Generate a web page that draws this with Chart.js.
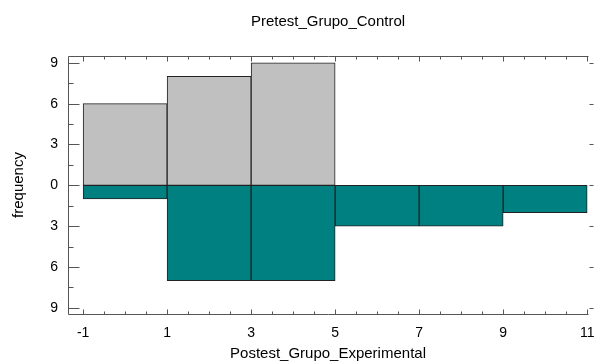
<!DOCTYPE html>
<html>
<head>
<meta charset="utf-8">
<script src="https://cdn.jsdelivr.net/npm/chart.js@4.4.1/dist/chart.umd.min.js"></script>
<style>
  html, body { margin: 0; padding: 0; background: #fff; }
  #wrap { width: 594px; height: 363px; }
</style>
</head>
<body>
<div id="wrap"><canvas id="histChart"></canvas></div>
<script>
// Bin centres (bins are 2 wide, from -1 to 11)
const binCenters = [0, 2, 4, 6, 8, 10];
// Pretest_Grupo_Control counts (drawn upwards)
const controlCounts = [6, 8, 9];
// Postest_Grupo_Experimental counts (drawn downwards)
const experimentalCounts = [1, 7, 7, 3, 3, 2];
// Axis ticks
const xTickValues = [-1, 1, 3, 5, 7, 9, 11];
const yTickValues = [-9, -6, -3, 0, 3, 6, 9];

const labelFont = "'Liberation Sans', Arial, sans-serif";

// Frame and inward tick marks like the original plot
const framePlugin = {
    id: 'frame',
    afterDatasetsDraw(chart) {
        const ctx = chart.ctx;
        const area = chart.chartArea;
        const xs = chart.scales.x;
        const ys = chart.scales.y;
        const L = Math.round(area.left) + 0.5;
        const R = Math.round(area.right) + 0.5;
        const T = Math.round(area.top) + 0.5;
        const B = Math.round(area.bottom) + 0.5;

        ctx.save();
        ctx.strokeStyle = '#555555';
        ctx.lineWidth = 1;
        ctx.beginPath();
        ctx.moveTo(R, T); ctx.lineTo(L, T); ctx.lineTo(L, B); ctx.lineTo(R, B);
        ctx.stroke();

        ctx.beginPath();
        // x ticks every 0.5, major at the labelled values
        for (let v = -1; v <= 11.001; v += 0.5) {
            const px = Math.round(xs.getPixelForValue(v)) + 0.5;
            const len = xTickValues.includes(v) ? 5 : 3;
            ctx.moveTo(px, T); ctx.lineTo(px, T + len);
            ctx.moveTo(px, B); ctx.lineTo(px, B - len);
        }
        // y ticks every 1.5, major every 3
        for (let v = -9; v <= 9.001; v += 1.5) {
            const py = Math.round(ys.getPixelForValue(v)) + 0.5;
            const major = yTickValues.includes(v);
            ctx.moveTo(L, py); ctx.lineTo(L + (major ? 11 : 5), py);
            if (major) { ctx.moveTo(R + 1, py); ctx.lineTo(R + 5, py); }
        }
        ctx.stroke();
        ctx.restore();
    }
};

const ctx = document.getElementById('histChart').getContext('2d');
const histChart = new Chart(ctx, {
    type: 'bar',
    data: {
        datasets: [{
            label: 'Pretest_Grupo_Control',
            data: controlCounts.map((c, i) => ({ x: binCenters[i], y: c })),
            backgroundColor: '#c0c0c0',
            borderColor: '#222222',
            borderWidth: 1,
            borderSkipped: false
        }, {
            label: 'Postest_Grupo_Experimental',
            data: experimentalCounts.map((c, i) => ({ x: binCenters[i], y: -c })),
            backgroundColor: '#008080',
            borderColor: '#222222',
            borderWidth: 1,
            borderSkipped: false
        }]
    },
    options: {
        responsive: true,
        maintainAspectRatio: false,
        animation: false,
        grouped: false,
        barPercentage: 1,
        categoryPercentage: 1,
        layout: { padding: { top: 0, right: 6, bottom: 0, left: 0 } },
        plugins: {
            legend: { display: false },
            tooltip: { enabled: false },
            title: {
                display: true,
                text: 'Pretest_Grupo_Control',
                fullSize: false,
                color: '#000',
                font: { family: labelFont, size: 15, weight: 'normal' },
                padding: { top: 13, bottom: 25 }
            }
        },
        scales: {
            x: {
                type: 'linear',
                offset: false,
                min: -1.36,
                max: 11.02,
                afterBuildTicks: function(scale) {
                    scale.ticks = xTickValues.map(v => ({ value: v }));
                },
                afterFit: function(scale) {
                    scale.height = 49;
                    scale.paddingLeft = 0;
                    scale.paddingRight = 0;
                },
                grid: { display: false, drawTicks: false },
                border: { display: false },
                ticks: {
                    color: '#000',
                    padding: 11,
                    autoSkip: false,
                    maxRotation: 0,
                    font: { family: labelFont, size: 14 }
                },
                title: {
                    display: true,
                    text: 'Postest_Grupo_Experimental',
                    color: '#000',
                    font: { family: labelFont, size: 15 },
                    padding: { top: 0, bottom: 0 }
                }
            },
            y: {
                min: -9.45,
                max: 9.5,
                afterBuildTicks: function(scale) {
                    scale.ticks = yTickValues.map(v => ({ value: v }));
                },
                afterFit: function(scale) {
                    scale.width = 68;
                    scale.paddingTop = 0;
                    scale.paddingBottom = 0;
                },
                grid: { display: false, drawTicks: false },
                border: { display: false },
                ticks: {
                    color: '#000',
                    padding: 10,
                    font: { family: labelFont, size: 14 },
                    callback: function(value) {
                        return Math.abs(value);
                    }
                },
                title: {
                    display: true,
                    text: 'frequency',
                    color: '#000',
                    font: { family: labelFont, size: 15 },
                    padding: { top: 10, bottom: 0 }
                }
            }
        }
    },
    plugins: [framePlugin]
});
</script>
</body>
</html>
